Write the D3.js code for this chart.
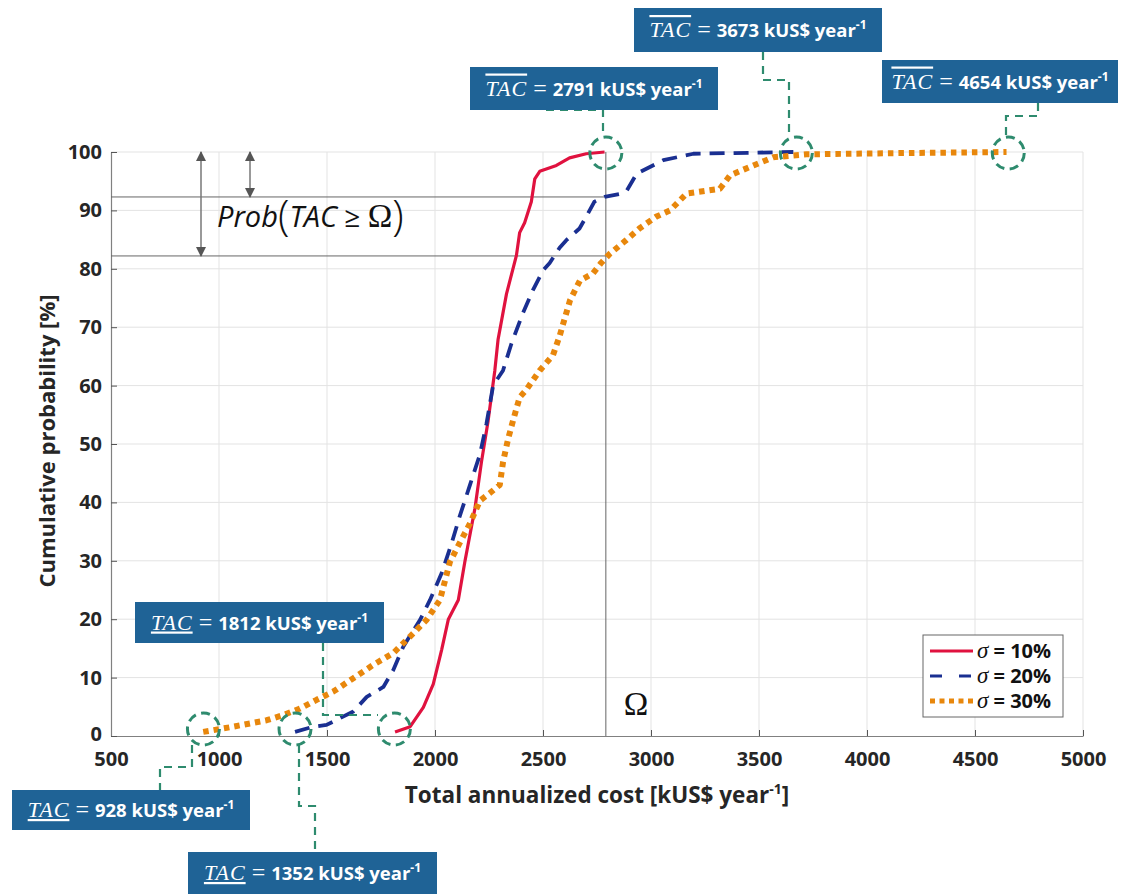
<!DOCTYPE html>
<html><head><meta charset="utf-8">
<script src="https://cdn.jsdelivr.net/npm/d3@7"></script>
<style>body{margin:0;background:#fff}svg{display:block}</style>
</head><body>
<script>
// ---- data ----
const xTicks = [500,1000,1500,2000,2500,3000,3500,4000,4500,5000];
const yTicks = [0,10,20,30,40,50,60,70,80,90,100];
const seriesNames = ["σ = 10%","σ = 20%","σ = 30%"];
const redX = [1815,1885,1946,1992,2031,2062,2108,2138,2185,2215,2246,2277,2292,2331,2354,2377,2392,2415,2446,2462,2485,2562,2623,2700,2785];
const redY = [0.7,1.6,4.9,8.9,14.8,20,23.3,29.8,39,46.9,54,62.6,67.9,75.7,79,82.3,86.2,87.9,91.5,95.4,96.7,97.7,99,99.7,100];
const blueX = [1352,1437,1498,1622,1684,1761,1807,1853,1931,1977,2031,2077,2115,2162,2208,2238,2269,2315,2354,2408,2454,2500,2531,2577,2608,2669,2700,2738,2785,2854,2888,2934,3057,3196,3659];
const blueY = [0.7,1.6,1.9,4.2,6.7,8.4,11.3,15.3,19.9,23.3,27.9,33,37.7,43,48.2,53.4,60,62.6,67.2,72.5,76.4,79.7,81,83.6,84.9,86.9,88.9,91.5,92.3,92.8,93.4,96.3,98.6,99.7,100];
const orangeX = [927,1066,1221,1298,1375,1452,1529,1622,1715,1807,1900,1961,2023,2069,2115,2162,2208,2254,2300,2315,2338,2362,2392,2423,2485,2546,2577,2625,2671,2731,2769,2810,2885,2946,3023,3088,3165,3319,3366,3474,3566,3721,4122,4646];
const orangeY = [0.7,1.6,2.7,3.6,4.7,6.2,7.6,9.9,12.2,14.2,17.6,19.9,23.3,29.8,33.1,36.4,40.3,41.6,43,46.9,50.8,54.1,58,59.3,62.6,65.2,68.5,74.6,78,79.2,81,82.6,84.9,86.9,88.9,90,92.9,93.7,96,97.7,99.1,99.6,99.8,100];
const omega = 2791;
const probLevels = [92.3, 82.2];
const meanValues = [2791, 3673, 4654];
const minValues = [1812, 928, 1352];

// ---- layout ----
const W = 1129, H = 894;
const svg = d3.select("body").append("svg").attr("width", W).attr("height", H);
const x = d3.scaleLinear().domain([500,5000]).range([111,1083]);
const y = d3.scaleLinear().domain([0,100]).range([736,152]);
const tickFont = "'Open Sans', sans-serif";
const green = "#2e8b6e", boxCol = "#1f6396";

// grid
svg.append("g").selectAll("line").data(xTicks.slice(1)).join("line")
  .attr("x1", d=>x(d)).attr("x2", d=>x(d)).attr("y1", y(0)).attr("y2", y(100))
  .attr("stroke", "#e3e3e3").attr("stroke-width", 1);
svg.append("g").selectAll("line").data(yTicks.slice(1)).join("line")
  .attr("x1", x(500)).attr("x2", x(5000)).attr("y1", d=>y(d)).attr("y2", d=>y(d))
  .attr("stroke", "#e3e3e3").attr("stroke-width", 1);

// axes
const xAxis = svg.append("g").attr("transform", `translate(0,${y(0)})`)
  .call(d3.axisBottom(x).tickValues(xTicks).tickFormat(d3.format("d")).tickSizeInner(-6).tickSizeOuter(0).tickPadding(18));
const yAxis = svg.append("g").attr("transform", `translate(${x(500)},0)`)
  .call(d3.axisLeft(y).tickValues(yTicks).tickFormat(d3.format("d")).tickSizeInner(-6).tickSizeOuter(0).tickPadding(14));
[xAxis, yAxis].forEach(a => {
  a.select(".domain").attr("stroke", "#808080").attr("stroke-width", 1.2);
  a.selectAll(".tick line").attr("stroke", "#555");
  a.selectAll(".tick text").attr("font-family", tickFont).attr("font-weight", 700)
    .attr("font-size", 20).attr("fill", "#262626");
});
xAxis.selectAll(".tick text").attr("dy", "0.6em");
yAxis.selectAll(".tick text").attr("dx", "5").attr("dy", d => d === 0 ? "0.2em" : "0.32em");

// axis titles
const xt = svg.append("text").attr("x", 597).attr("y", 803).attr("text-anchor", "middle")
  .attr("font-family", tickFont).attr("font-weight", 700).attr("font-size", 22.5).attr("fill", "#262626");
xt.append("tspan").text("Total annualized cost [kUS$ year");
xt.append("tspan").text("-1").attr("font-size", 14).attr("dy", -9);
xt.append("tspan").text("]").attr("dy", 9);
svg.append("text").attr("transform", "translate(55,441) rotate(-90)").attr("text-anchor", "middle")
  .attr("font-family", tickFont).attr("font-weight", 700).attr("font-size", 22).attr("fill", "#262626")
  .text("Cumulative probability [%]");

// reference lines
const refCol = "#666";
probLevels.forEach(p => {
  svg.append("line").attr("x1", x(500)).attr("x2", x(omega)).attr("y1", y(p)).attr("y2", y(p))
    .attr("stroke", refCol).attr("stroke-width", 1);
});
svg.append("line").attr("x1", x(omega)).attr("x2", x(omega)).attr("y1", y(100)).attr("y2", y(0))
  .attr("stroke", refCol).attr("stroke-width", 1);

// double arrows
const defs = svg.append("defs");
defs.append("marker").attr("id","ah").attr("viewBox","0 0 10 10").attr("refX",9).attr("refY",5)
  .attr("markerWidth",12).attr("markerHeight",10).attr("markerUnits","userSpaceOnUse").attr("orient","auto-start-reverse")
  .append("path").attr("d","M0,0 L10,5 L0,10 Z").attr("fill","#555");
[[201, probLevels[1]], [250, probLevels[0]]].forEach(([ax, lv]) => {
  svg.append("line").attr("x1", ax).attr("x2", ax).attr("y1", y(100)).attr("y2", y(lv))
    .attr("stroke","#777").attr("stroke-width",1.5)
    .attr("marker-start","url(#ah)").attr("marker-end","url(#ah)");
});
const pt = svg.append("text").attr("x", 217).attr("y", 227).attr("font-family","'Open Sans', sans-serif")
  .attr("font-style","italic").attr("font-size",29).attr("fill","#111");
pt.append("tspan").text("Prob");
pt.append("tspan").text("(").attr("font-style","normal").attr("font-size",42).attr("font-weight",300).attr("dy",3);
pt.append("tspan").text("TAC").attr("dy",-3);
pt.append("tspan").text(" ≥ ").attr("font-style","normal").attr("font-size",28);
pt.append("tspan").text("Ω").attr("font-style","normal").attr("font-family","'Liberation Serif', serif").attr("font-size",33);
pt.append("tspan").text(")").attr("font-style","normal").attr("font-size",42).attr("font-weight",300).attr("dy",3);
svg.append("text").attr("x", x(omega)+18).attr("y", 715).attr("font-family","'Liberation Serif', serif")
  .attr("font-size",33).attr("fill","#111").text("Ω");

// curves
const line = d3.line().x(d=>x(d[0])).y(d=>y(d[1]));
const series = [
  {xs: redX, ys: redY, color: "#e0123f", w: 3.2, dash: null},
  {xs: blueX, ys: blueY, color: "#1a2f91", w: 3.8, dash: "15 9"},
  {xs: orangeX, ys: orangeY, color: "#e8870c", w: 6, dash: "5.5 5"}
];
series.forEach(s => {
  svg.append("path").datum(s.xs.map((v,i)=>[v, s.ys[i]])).attr("d", line)
    .attr("fill","none").attr("stroke", s.color).attr("stroke-width", s.w)
    .attr("stroke-dasharray", s.dash).attr("stroke-linejoin","round");
});

// legend
const lg = svg.append("g").attr("transform","translate(923,635)");
lg.append("rect").attr("width",140).attr("height",82).attr("fill","#fff").attr("stroke","#666").attr("stroke-width",1);
series.forEach((s,i) => {
  const yy = 16 + i*25;
  lg.append("line").attr("x1",7).attr("x2",50).attr("y1",yy).attr("y2",yy)
    .attr("stroke",s.color).attr("stroke-width", i===2?5:3.2).attr("stroke-dasharray", i===1?"12 17":(i===2?"5 4.5":null));
  const t = lg.append("text").attr("x",54).attr("y",yy+7).attr("font-family",tickFont)
    .attr("font-weight",700).attr("font-size",20).attr("fill","#111");
  t.append("tspan").text("σ").attr("font-family","'Liberation Serif', serif").attr("font-style","italic").attr("font-weight",400).attr("font-size",23);
  t.append("tspan").text(seriesNames[i].slice(1));
});

// annotation circles
const circlePts = [
  [meanValues[0], 100], [meanValues[1], 100], [meanValues[2], 100],
  [minValues[0], 0], [minValues[1], 0], [minValues[2], 0]
];
circlePts.forEach(([cx, cy]) => {
  svg.append("circle").attr("cx", x(cx)).attr("cy", y(cy) + (cy===0 ? -7 : 1)).attr("r", 16)
    .attr("fill","none").attr("stroke",green).attr("stroke-width",3).attr("stroke-dasharray","9 5.5");
});

// connectors
const conn = [
  [[546,110],[603,110],[603,137]],
  [[763,52],[763,80],[789,80],[789,137]],
  [[1038,103],[1038,116],[1006,116],[1006,137]],
  [[323,643],[323,715],[378,715]],
  [[192,745],[192,767],[160,767],[160,790]],
  [[299,745],[299,806],[315,806],[315,853]]
];
conn.forEach(pts => {
  svg.append("path").attr("d", d3.line()(pts)).attr("fill","none").attr("stroke",green)
    .attr("stroke-width",2.2).attr("stroke-dasharray","8 6");
});

// label boxes
const boxes = [
  {x0:470, y0:67, w:248, h:43, v:meanValues[0], bar:"over"},
  {x0:634, y0:8, w:248, h:44, v:meanValues[1], bar:"over"},
  {x0:882, y0:60, w:236, h:43, v:meanValues[2], bar:"over"},
  {x0:135, y0:602, w:249, h:41, v:minValues[0], bar:"under"},
  {x0:12, y0:790, w:238, h:40, v:minValues[1], bar:"under"},
  {x0:188, y0:852, w:249, h:42, v:minValues[2], bar:"under"}
];
boxes.forEach(b => {
  svg.append("rect").attr("x",b.x0).attr("y",b.y0).attr("width",b.w).attr("height",b.h).attr("fill",boxCol);
  const ty = b.y0 + b.h/2 + 7;
  const t = svg.append("text").attr("x", b.x0 + b.w/2).attr("y", ty).attr("text-anchor","middle").attr("fill","#fff")
    .attr("font-family",tickFont).attr("font-weight",700).attr("font-size",18.5);
  t.append("tspan").text("TAC").attr("font-family","'Liberation Serif', serif").attr("font-style","italic")
    .attr("font-weight",400).attr("font-size",22).attr("letter-spacing",1).attr("text-decoration", b.bar==="over"?"overline":"underline");
  t.append("tspan").text(" = ").attr("font-family","'Liberation Serif', serif").attr("font-weight",400).attr("font-size",24);
  t.append("tspan").text(b.v + " kUS$ year");
  t.append("tspan").text("-1").attr("font-size",12).attr("dy",-8);
});
</script>
</body></html>
